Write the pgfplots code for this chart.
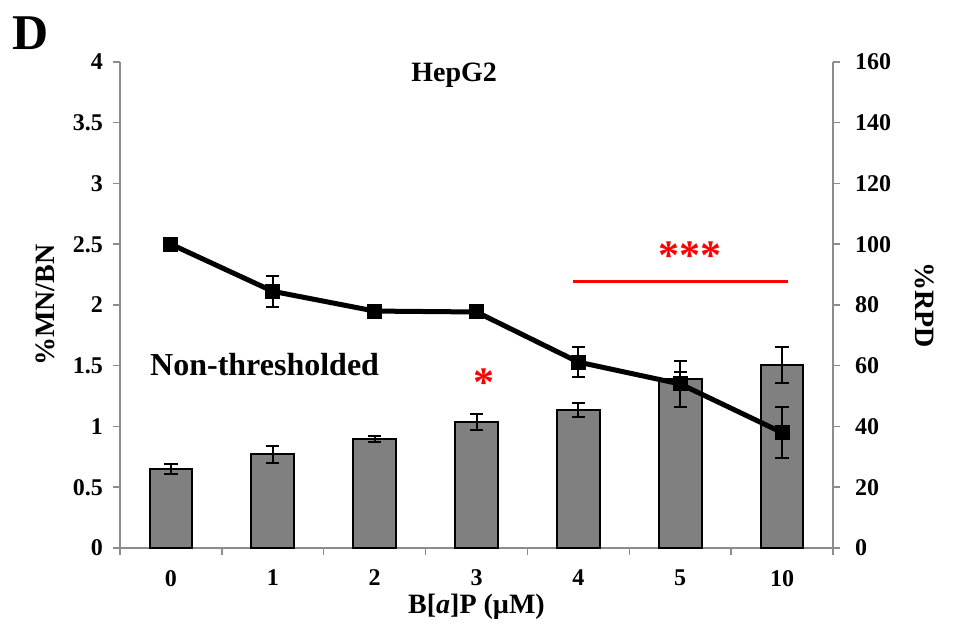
\documentclass[border=0pt]{standalone}
\usepackage{pgfplots}
\pgfplotsset{compat=1.18}
\usepackage{pgfplotstable}
\usepackage{fontspec}
\setmainfont{Liberation Serif}

\definecolor{bargray}{HTML}{808080}
\definecolor{axgray}{HTML}{8C8C8C}

% x = category position (0..6 -> doses 0,1,2,3,4,5,10 uM)
\pgfplotstableread{
x  mn    mnerr  rpd    rpderr
0  0.65  0.04   100.0  0
1  0.77  0.07   84.5   5
2  0.895 0.025  78.0   2
3  1.04  0.065  77.7   1
4  1.135 0.06   61.2   5
5  1.39  0.06   54.0   7.5
6  1.505 0.15   38.0   8.5
}\data

\begin{document}
\begin{tikzpicture}
\useasboundingbox (-60pt,-43.5pt) rectangle (418pt,274pt);
\pgfplotsset{
  common/.style={
    width=356.5pt, height=243pt, scale only axis,
    xmin=-0.5, xmax=6.5, clip=false,
    tick align=outside, major tick length=3.5pt,
    tick style={draw=axgray, line width=0.75pt},
    axis line style={draw=axgray, line width=0.75pt},
    ticklabel style={font=\fontsize{12}{14}\selectfont\bfseries},
    /pgf/number format/assume math mode=true,
    label style={font=\fontsize{14}{16}\selectfont\bfseries},
  },
  errs/.style={
    error bars/.cd, y dir=both, y explicit,
    error bar style={black, line width=1pt},
    error mark options={black, line width=1pt, mark size=3.3pt, rotate=90},
  },
}
% bars: %MN/BN on the left axis
\begin{axis}[common,
  axis y line*=left, axis x line*=bottom,
  ymin=0, ymax=4, ytick={0,0.5,...,4},
  yticklabel style={xshift=-1.5pt},
  xtick={-0.5,0.5,...,6.5}, xticklabels={},
  extra x ticks={0,...,6}, extra x tick labels={0,1,2,3,4,5,10},
  extra x tick style={tick style={draw=none}, xticklabel style={yshift=-4pt}},
  ylabel={\%MN/BN},
  ylabel style={at={(axis description cs:-0.105,0.5)}, anchor=center},
  xlabel={B[\textit{a}]P (µM)},
  xlabel style={at={(axis description cs:0.5,-0.121)}, anchor=center},
]
\addplot[ybar, bar width=0.42, fill=bargray, draw=black, line width=1pt, errs]
  table[x=x, y=mn, y error=mnerr] {\data};

\node[font=\fontsize{14}{16}\selectfont\bfseries] at (axis cs:2.78,3.89) {HepG2};
\node[font=\fontsize{16}{18}\selectfont\bfseries] at (axis cs:0.92,1.51) {Non-thresholded};
\node[red, font=\fontsize{21}{24}\selectfont\bfseries] at (axis cs:3.07,1.36) {*};
\node[red, font=\fontsize{21}{24}\selectfont\bfseries] at (axis cs:5.1,2.41) {***};
\draw[red, line width=1.5pt] (axis cs:3.95,2.19) -- (axis cs:6.06,2.19);
\node[font=\fontsize{25}{28}\selectfont\bfseries] at (axis description cs:-0.126,1.06) {D};
\end{axis}

% line: %RPD on the right axis
\begin{axis}[common,
  axis y line*=right, axis x line=none,
  ymin=0, ymax=160, ytick={0,20,...,160},
  yticklabel style={xshift=4pt},
  ylabel={\%RPD},
  ylabel style={at={(axis description cs:1.129,0.5)}, anchor=center, rotate=180},
]
\addplot[black, line width=2.5pt, mark=square*, mark size=3.5pt,
  mark options={solid, line width=0.5pt}, errs]
  table[x=x, y=rpd, y error=rpderr] {\data};
\end{axis}
\end{tikzpicture}
\end{document}
